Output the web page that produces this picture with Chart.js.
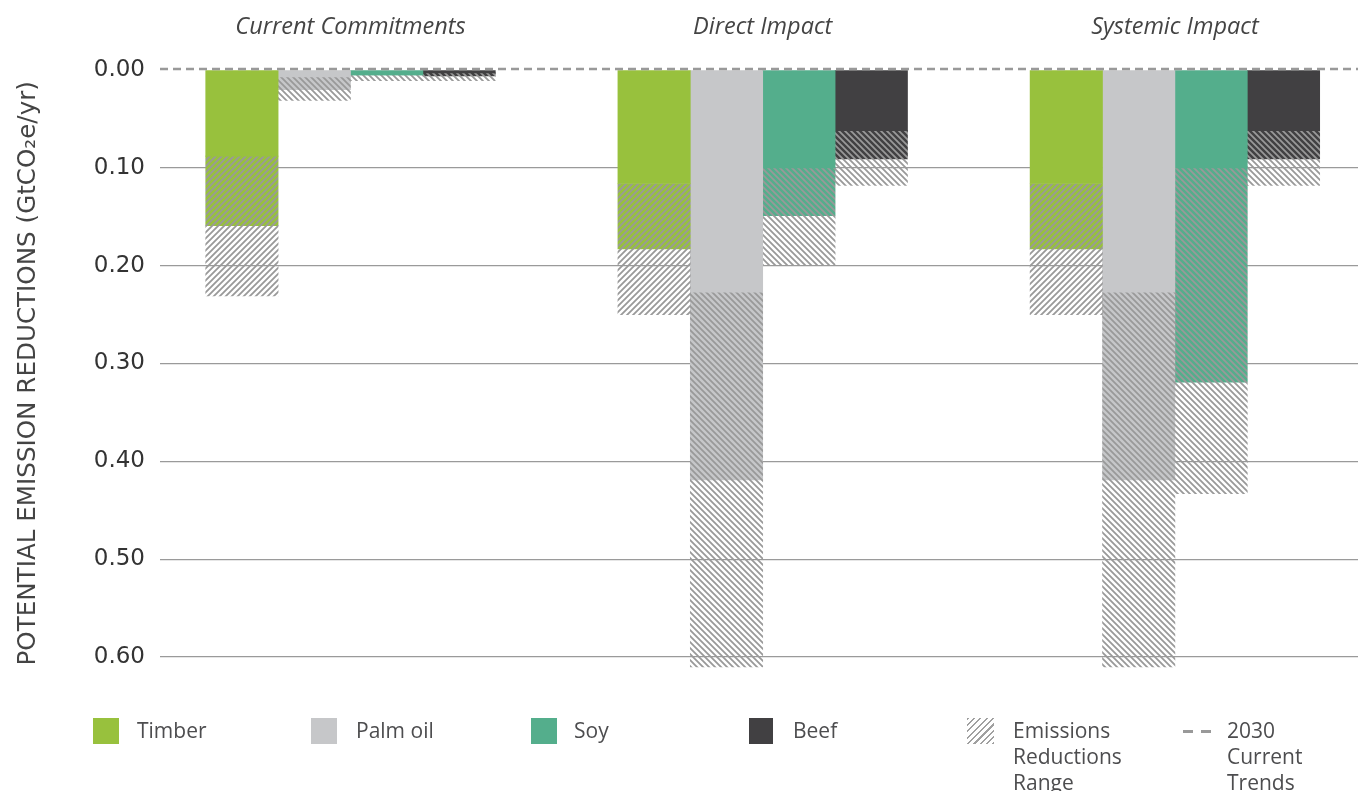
<!DOCTYPE html>
<html>
<head>
<meta charset="utf-8">
<script src="https://cdn.jsdelivr.net/npm/chart.js@4/dist/chart.umd.min.js"></script>
<style>
  body { margin: 0; background: #fff; }
  #wrap { position: relative; width: 1358px; height: 791px; overflow: hidden; }
  .lg { position: absolute; top: 717px; font-family: "Open Sans", sans-serif; font-size: 21px; line-height: 26px; color: #4d4d4f; }
  .sw { position: absolute; top: 718px; width: 26px; height: 26px; }
</style>
</head>
<body>
<div id="wrap">
  <canvas id="emChart" width="1358" height="791"></canvas>
  <div class="sw" style="left:93px;background:#98c13d"></div><div class="lg" style="left:137px">Timber</div>
  <div class="sw" style="left:311px;background:#c6c7c9"></div><div class="lg" style="left:356px">Palm oil</div>
  <div class="sw" style="left:531px;background:#54ae8c"></div><div class="lg" style="left:574px">Soy</div>
  <div class="sw" style="left:749px;width:24px;background:#414042"></div><div class="lg" style="left:793px">Beef</div>
  <div class="sw" style="left:967px;width:27px;background:repeating-linear-gradient(135deg,#a0a0a0 0 1.6px,transparent 1.6px 4.5px)"></div>
  <div class="lg" style="left:1013px">Emissions<br>Reductions<br>Range</div>
  <div style="position:absolute;left:1183px;top:730px;width:10px;height:2.5px;background:#999"></div>
  <div style="position:absolute;left:1201px;top:730px;width:10px;height:2.5px;background:#999"></div>
  <div class="lg" style="left:1227px">2030<br>Current<br>Trends</div>
</div>
<script>
// Groups along the x axis
const groups = ['Current Commitments', 'Direct Impact', 'Systemic Impact'];

// Each commodity: solid part, end of coloured range, end of full range (GtCO2e/yr)
const timberBase = [0.088, 0.116, 0.116];
const timberMid  = [0.159, 0.183, 0.183];
const timberHigh = [0.231, 0.250, 0.250];

const palmBase = [0.007, 0.227, 0.227];
const palmMid  = [0.020, 0.419, 0.419];
const palmHigh = [0.031, 0.610, 0.610];

const soyBase = [0.005, 0.100, 0.100];
const soyMid  = [0.005, 0.149, 0.319];
const soyHigh = [0.011, 0.199, 0.433];

const beefBase = [0.003, 0.062, 0.062];
const beefMid  = [0.006, 0.091, 0.091];
const beefHigh = [0.011, 0.118, 0.118];

// 2030 current trends reference
const currentTrend = 0;

const yTicks = [0, 0.1, 0.2, 0.3, 0.4, 0.5, 0.6];

// hatch pattern
function hatch(bg, dir) {
  const s = 6;
  const c = document.createElement('canvas');
  c.width = c.height = s;
  const g = c.getContext('2d');
  if (bg) { g.fillStyle = bg; g.fillRect(0, 0, s, s); }
  g.strokeStyle = '#999';
  g.lineWidth = 1.8;
  g.beginPath();
  if (dir === '/') {
    g.moveTo(-1, 1); g.lineTo(1, -1);
    g.moveTo(0, s); g.lineTo(s, 0);
    g.moveTo(s - 1, s + 1); g.lineTo(s + 1, s - 1);
  } else {
    g.moveTo(-1, s - 1); g.lineTo(1, s + 1);
    g.moveTo(0, 0); g.lineTo(s, s);
    g.moveTo(s - 1, -1); g.lineTo(s + 1, 1);
  }
  g.stroke();
  return g.createPattern(c, 'repeat');
}

const commodities = [
  { name: 'Timber',   color: '#98c13d', dir: '/',  base: timberBase, mid: timberMid, high: timberHigh },
  { name: 'Palm oil', color: '#c6c7c9', dir: '\\', base: palmBase,   mid: palmMid,   high: palmHigh },
  { name: 'Soy',      color: '#54ae8c', dir: '\\', base: soyBase,    mid: soyMid,    high: soyHigh },
  { name: 'Beef',     color: '#414042', dir: '\\', base: beefBase,   mid: beefMid,   high: beefHigh }
];

const datasets = [];
commodities.forEach(c => {
  const pts = arr => arr.map((v, i) => ({ x: i, y: v }));
  datasets.push({ label: c.name, stack: c.name, backgroundColor: c.color,
    data: pts(c.base) });
  datasets.push({ label: c.name + ' range', stack: c.name, backgroundColor: hatch(c.color, c.dir),
    data: pts(c.mid.map((v, i) => v - c.base[i])) });
  datasets.push({ label: c.name + ' range (upper)', stack: c.name, backgroundColor: hatch(null, c.dir),
    data: pts(c.high.map((v, i) => v - c.mid[i])) });
});

// dashed line for 2030 current trends
const trendLine = {
  id: 'trendLine',
  afterDatasetsDraw(chart) {
    const { ctx, chartArea, scales } = chart;
    const y = scales.y.getPixelForValue(currentTrend) - 1;
    ctx.save();
    ctx.strokeStyle = '#999';
    ctx.lineWidth = 2.5;
    ctx.setLineDash([8, 5]);
    ctx.beginPath();
    ctx.moveTo(chartArea.left, y);
    ctx.lineTo(chartArea.right, y);
    ctx.stroke();
    ctx.restore();
  }
};

new Chart(document.getElementById('emChart'), {
  type: 'bar',
  data: { datasets: datasets },
  plugins: [trendLine],
  options: {
    responsive: false,
    animation: false,
    events: [],
    layout: { padding: { left: 2, right: 0, top: 0, bottom: 114.4 } },
    datasets: { bar: { barThickness: 72.4, borderWidth: 0 } },
    plugins: { legend: { display: false }, tooltip: { enabled: false } },
    scales: {
      x: {
        type: 'linear',
        position: 'top',
        offset: false,
        min: -0.4622,
        max: 2.4442,
        grid: { display: false },
        border: { display: false },
        afterBuildTicks: s => { s.ticks = groups.map((g, i) => ({ value: i })); },
        afterFit: s => { s.height = 70; },
        ticks: {
          padding: 21,
          maxRotation: 0,
          autoSkip: false,
          color: '#444',
          font: { family: 'Open Sans', size: 23.5, style: 'italic' },
          callback: v => groups[v]
        }
      },
      y: {
        stacked: true,
        reverse: true,
        min: 0,
        max: 0.62,
        afterBuildTicks: s => { s.ticks = yTicks.map(v => ({ value: v })); },
        afterFit: s => { s.width = 158; },
        grid: {
          drawTicks: false,
          color: ctx => ctx.tick && ctx.tick.value === 0 ? 'rgba(0,0,0,0)' : '#9a9a9a',
          lineWidth: 1.3
        },
        border: { display: false },
        ticks: {
          padding: 15,
          color: '#333',
          font: { family: 'DejaVu Sans', size: 23 },
          callback: v => v.toFixed(2)
        },
        title: {
          display: true,
          text: 'POTENTIAL EMISSION REDUCTIONS (GtCO\u2082e/yr)',
          color: '#444',
          padding: { top: 12, bottom: 0 },
          font: { family: 'DejaVu Sans', size: 24.6 }
        }
      }
    }
  }
});
</script>
</body>
</html>
